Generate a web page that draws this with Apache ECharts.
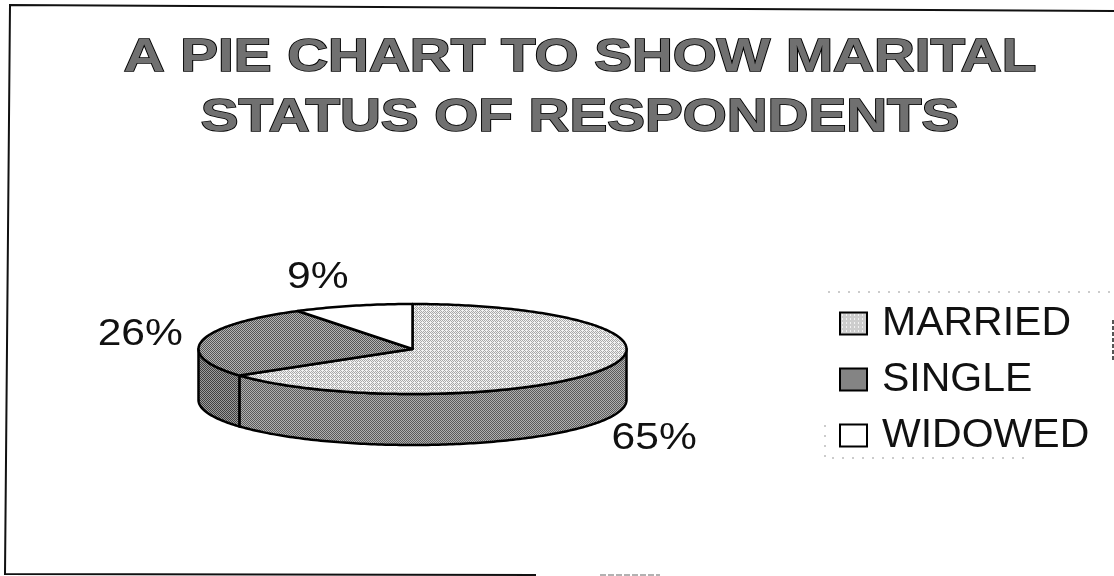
<!DOCTYPE html>
<html><head><meta charset="utf-8">
<style>html,body{margin:0;padding:0;background:#fff}#c{width:1114px;height:576px}</style>
<script src="https://cdn.jsdelivr.net/npm/echarts@6/dist/echarts.min.js"></script>
</head><body><div id="c"></div>
<script>
const categories = ['MARRIED', 'SINGLE', 'WIDOWED'];
const percents = [65, 26, 9];
const titleLines = ['A PIE CHART TO SHOW MARITAL', 'STATUS OF RESPONDENTS'];

// layout (pixels) of the flattened 3-D pie
const PIE = {cx: 412.5, cy: 349, rx: 214, ry: 45, depth: 51};
const LABEL_SHIFT = [[51, 18], [-62, -6], [-35, -28]];
const FONT = '"Liberation Sans", Arial, sans-serif';

function dither(a, b, size, rule) {
  const cv = document.createElement('canvas');
  cv.width = cv.height = size;
  const g = cv.getContext('2d');
  for (let y = 0; y < size; y++) for (let x = 0; x < size; x++) {
    g.fillStyle = rule(x, y) ? a : b;
    g.fillRect(x, y, 1, 1);
  }
  return {image: cv, repeat: 'repeat'};
}
const checker = (x, y) => (x + y) % 2 === 0;
const topFill = [
  dither('#a8a8a8', '#f2f2f2', 4, (x, y) => (x + y) % 2 === 0 && !(x === 2 && y === 2)),
  dither('#555555', '#b4b4b4', 2, checker),
  '#ffffff'
];
const wallFill = [
  dither('#5a5a5a', '#b0b0b0', 2, checker),
  dither('#404040', '#9c9c9c', 2, checker)
];

const fullTurn = Math.PI * 2;
function angleOf(pct) { return pct / 100 * fullTurn; }
function rimPoint(a, drop) {
  return [PIE.cx + PIE.rx * Math.sin(a), PIE.cy - PIE.ry * Math.cos(a) + (drop || 0)];
}
function arc(a0, a1, drop) {
  const n = Math.max(2, Math.ceil((a1 - a0) * 60)), pts = [];
  for (let i = 0; i <= n; i++) pts.push(rimPoint(a0 + (a1 - a0) * i / n, drop));
  return pts;
}
const edge = {stroke: '#000', lineWidth: 2.5, lineJoin: 'round'};

function makeRender(idx) {
  return function (params, api) {
    const before = percents.slice(0, idx).reduce((s, v) => s + v, 0);
    const value = api.value(0);
    const a0 = angleOf(before), a1 = angleOf(before + value);
    const children = [];
    const w0 = Math.max(a0, Math.PI / 2), w1 = Math.min(a1, Math.PI * 1.5);
    if (w1 > w0) {
      const wall = arc(w0, w1, 0).concat(arc(w0, w1, PIE.depth).reverse());
      children.push({type: 'polygon', shape: {points: wall},
        style: Object.assign({fill: wallFill[idx]}, edge)});
    }
    children.push({type: 'polygon', shape: {points: [[PIE.cx, PIE.cy]].concat(arc(a0, a1, 0))},
      style: Object.assign({fill: topFill[idx]}, edge)});
    const mid = rimPoint((a0 + a1) / 2, idx === 0 ? PIE.depth : 0);
    children.push({type: 'text', x: mid[0] + LABEL_SHIFT[idx][0], y: mid[1] + LABEL_SHIFT[idx][1],
      scaleX: 1.15,
      style: {text: value + '%', fill: '#111', align: 'center', verticalAlign: 'middle',
        font: '37px ' + FONT}});
    return {type: 'group', children: children};
  };
}

const chart = echarts.init(document.getElementById('c'), null, {renderer: 'canvas'});
chart.setOption({
  animation: false,
  backgroundColor: '#fff',
  legend: {
    orient: 'vertical', left: 839, top: 303, padding: 0, itemGap: 15, itemWidth: 27, itemHeight: 22,
    icon: 'rect', selectedMode: false,
    data: categories,
    textStyle: {fontFamily: FONT, fontSize: 41, color: '#111', padding: [0, 0, 0, 10]}
  },
  graphic: [
    {type: 'text', silent: true, x: 580, y: 28, scaleX: 1.23, originX: 0, originY: 0,
     style: {text: titleLines.join('\n'), align: 'center', verticalAlign: 'top',
       font: 'bold 46px ' + FONT, lineHeight: 60, fill: '#707070', stroke: '#000', lineWidth: 1.6}},
    {type: 'polyline', silent: true, z: -1, shape: {points: [[536, 575], [5, 574], [10, 5], [1114, 11]]},
     style: {fill: 'none', stroke: '#111', lineWidth: 2}},
    {type: 'line', silent: true, z: -1, shape: {x1: 600, y1: 575, x2: 660, y2: 575},
     style: {stroke: '#999', lineWidth: 1.5, lineDash: [6, 2]}},
    {type: 'line', silent: true, z: -1, shape: {x1: 1113, y1: 320, x2: 1113, y2: 360},
     style: {stroke: '#555', lineWidth: 2, lineDash: [4, 2]}},
    {type: 'polyline', silent: true, z: -1,
     shape: {points: [[1110, 292], [825, 292]]},
     style: {fill: 'none', stroke: '#999', lineWidth: 1, lineDash: [2, 8]}},
    {type: 'polyline', silent: true, z: -1,
     shape: {points: [[825, 425], [825, 458], [1030, 458]]},
     style: {fill: 'none', stroke: '#999', lineWidth: 1, lineDash: [2, 8]}}
  ],
  series: categories.map((name, i) => ({
    type: 'custom', name: name, coordinateSystem: 'none',
    itemStyle: {color: topFill[i], borderColor: '#000', borderWidth: 2.5},
    data: [[percents[i]]],
    renderItem: makeRender(i)
  }))
});
</script></body></html>
